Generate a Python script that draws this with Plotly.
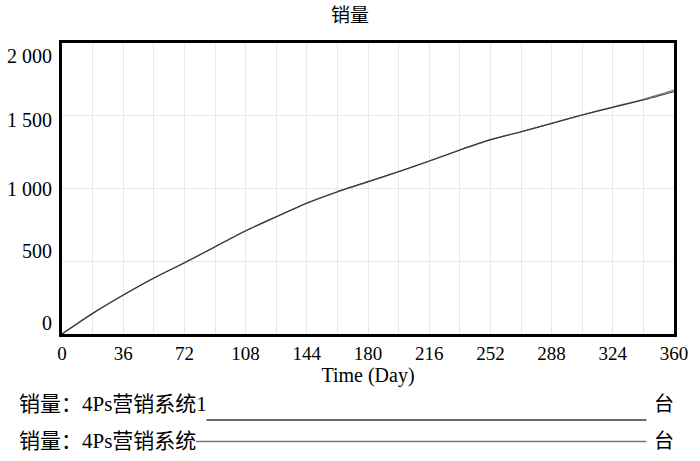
import plotly.graph_objects as go

# time axis (Day), sampled every 18 days
days = [0, 18, 36, 54, 72, 90, 108, 126, 144, 162, 180,
        198, 216, 234, 252, 270, 288, 306, 324, 342, 360]

# 销量 for the two runs
sales_run1 = [0, 142, 268, 385, 490, 600, 710, 806, 900, 978, 1047,
              1116, 1189, 1265, 1336, 1390, 1448, 1505, 1558, 1608, 1665]
sales_run2 = [0, 140, 266, 383, 489, 598, 708, 805, 898, 977, 1046,
              1115, 1188, 1264, 1334, 1389, 1447, 1506, 1560, 1613, 1676]

run_names = ["销量：4Ps营销系统1", "销量：4Ps营销系统"]
run_colors = ["#3a3a3a", "#777777"]
unit = "台"

x_ticks = [0, 36, 72, 108, 144, 180, 216, 252, 288, 324, 360]
y_ticks = [0, 500, 1000, 1500, 2000]
y_labels = ["0", "500", "1 000", "1 500", "2 000"]
y_label_shift = [11, 10, 0, -4, -13]

FONT = "Liberation Serif, Noto Sans CJK SC, serif"

fig = go.Figure()
fig.add_trace(go.Scatter(x=days, y=sales_run2, mode="lines", name=run_names[1],
                         line=dict(color=run_colors[1], width=1.2, shape="spline", smoothing=0.6)))
fig.add_trace(go.Scatter(x=days, y=sales_run1, mode="lines", name=run_names[0],
                         line=dict(color=run_colors[0], width=1.2, shape="spline", smoothing=0.6)))

# y tick labels drawn as annotations so they can sit off the gridlines
for v, lab, sh in zip(y_ticks, y_labels, y_label_shift):
    fig.add_annotation(x=0, xref="paper", y=v, yref="y", text=lab,
                       showarrow=False, xanchor="right", xshift=-8, yshift=sh,
                       font=dict(size=20, color="black", family=FONT))

# legend rows under the chart
legend_rows = [
    dict(text_y=-0.240, line_y=-0.2955, line_x0=0.236),
    dict(text_y=-0.367, line_y=-0.3694, line_x0=0.219),
]
for name, color, row in zip(run_names, run_colors, legend_rows):
    fig.add_annotation(x=-0.074, xref="paper", y=row["text_y"], yref="paper",
                       text=name, showarrow=False, xanchor="left", yanchor="middle",
                       font=dict(size=21, color="black", family=FONT))
    fig.add_annotation(x=0.984, xref="paper", y=row["text_y"], yref="paper",
                       text=unit, showarrow=False, xanchor="center", yanchor="middle",
                       font=dict(size=20, color="black", family=FONT))
    fig.add_shape(type="line", xref="paper", yref="paper",
                  x0=row["line_x0"], x1=0.955, y0=row["line_y"], y1=row["line_y"],
                  line=dict(color=color, width=1.5))

fig.update_layout(
    width=700, height=461,
    margin=dict(l=62, r=22, t=43, b=127),
    paper_bgcolor="white", plot_bgcolor="white",
    showlegend=False,
    font=dict(family=FONT, size=19, color="black"),
    title=dict(text="销量", x=0.5, xanchor="center", y=0.967, yanchor="middle",
               font=dict(size=19, family=FONT)),
)
fig.update_xaxes(
    range=[0, 360], tickvals=x_ticks, ticktext=[str(t) for t in x_ticks],
    tickfont=dict(size=19),
    showgrid=True, gridcolor="#e8e8e8", gridwidth=1,
    minor=dict(dtick=18, tick0=0, showgrid=True, gridcolor="#e8e8e8"),
    showline=True, mirror=True, linecolor="black", linewidth=3,
    ticks="", zeroline=False,
    title=dict(text="Time (Day)", standoff=2, font=dict(size=20)),
)
fig.update_yaxes(
    range=[0, 2000], tickvals=y_ticks, showticklabels=False,
    showgrid=True, gridcolor="#e8e8e8", gridwidth=1,
    showline=True, mirror=True, linecolor="black", linewidth=3,
    ticks="", zeroline=False,
)

fig.write_html("out.html", config={"displayModeBar": False},
               post_script="document.body.style.margin='0';")
